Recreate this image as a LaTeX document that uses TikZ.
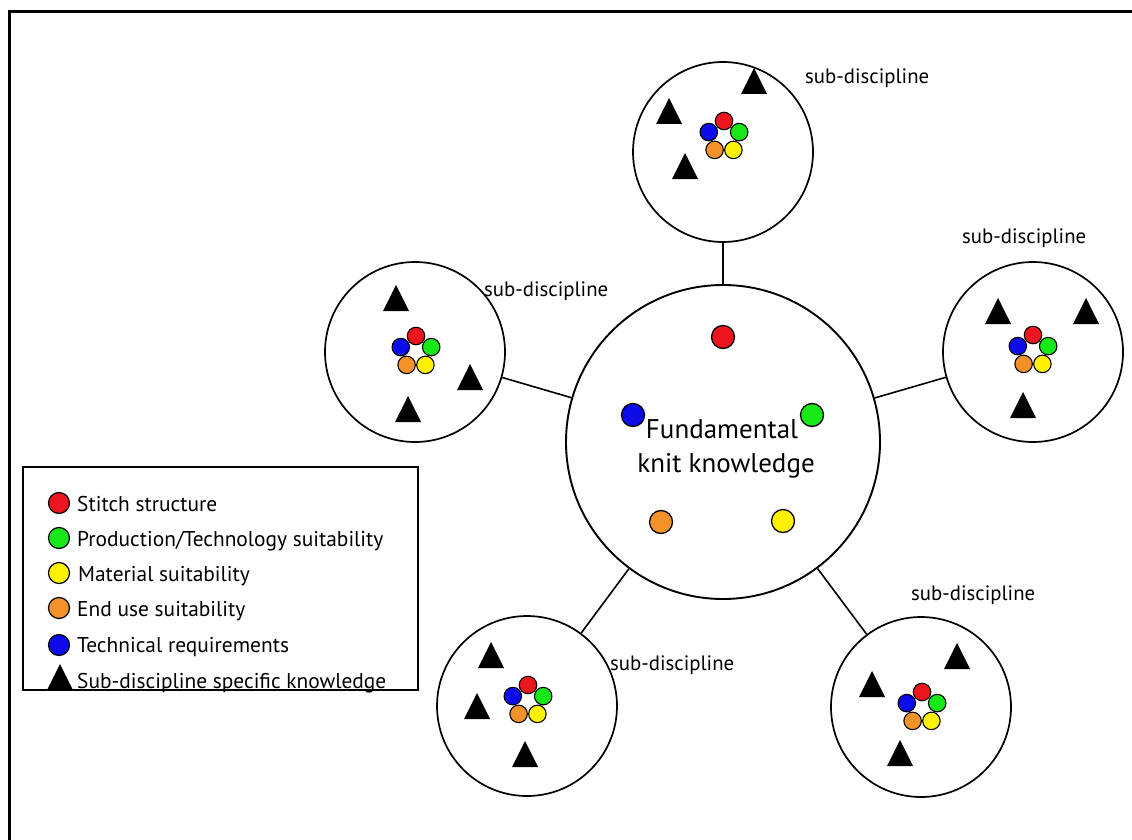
\documentclass[tikz,border=0pt]{standalone}
\usepackage{fontspec}
\setmainfont{PT Sans}
\definecolor{kred}{RGB}{238,22,30}
\definecolor{kgreen}{RGB}{24,232,24}
\definecolor{kblue}{RGB}{12,12,235}
\definecolor{kyellow}{RGB}{255,242,0}
\definecolor{korange}{RGB}{244,146,42}
% filled black triangle centred at (x,y)
\newcommand\knittri[1]{\fill (#1) ++(0,-13) -- ++(13,26) -- ++(-26,0) -- cycle;}
% small pentagon of the five knowledge dots, centred at (x,y); #1 = name prefix
\newcommand\knitset[2]{%
  \begin{scope}[shift={(#2)}]
    \node[smalldot,fill=kred]    (#1r) at (0,-16)     {};
    \node[smalldot,fill=kgreen]  (#1g) at (15.2,-4.9) {};
    \node[smalldot,fill=kyellow] (#1y) at (9.4,12.9)  {};
    \node[smalldot,fill=korange] (#1o) at (-9.4,12.9) {};
    \node[smalldot,fill=kblue]   (#1b) at (-15.2,-4.9){};
  \end{scope}}
\begin{document}
\begin{tikzpicture}[x=1pt,y=-1pt,
  hub/.style={circle,draw,line width=1.9pt,minimum size=314pt,inner sep=0pt},
  sat/.style={circle,draw,line width=1.7pt,minimum size=180pt,inner sep=0pt},
  bigdot/.style={circle,draw,line width=1.3pt,minimum size=23pt,inner sep=0pt},
  smalldot/.style={circle,draw,line width=1.1pt,minimum size=17.5pt,inner sep=0pt},
  legdot/.style={circle,draw,line width=1.2pt,minimum size=21pt,inner sep=0pt},
  link/.style={line width=1.6pt},
  sublabel/.style={anchor=west,inner sep=0pt,font=\fontsize{20.8}{24}\selectfont},
  legtext/.style={anchor=base west,inner sep=0pt,font=\fontsize{21.4}{25}\selectfont},
  hubtext/.style={anchor=base,inner sep=0pt,font=\fontsize{27}{32}\selectfont}]
\useasboundingbox (0,0) rectangle (1132,840);
\clip (0,0) rectangle (1132,840);
\fill[white] (0,0) rectangle (1132,840);
% outer frame (runs past the right and bottom edges)
\draw[line width=3pt] (9.5,11.5) rectangle (1160,870);

% central circle
\node[hub] (hub) at (723,442) {};
\node[bigdot,fill=kred]    (hr) at (723,337) {};
\node[bigdot,fill=kblue]   (hb) at (633,415) {};
\node[bigdot,fill=kgreen]  (hg) at (812,415) {};
\node[bigdot,fill=korange] (ho) at (661,522) {};
\node[bigdot,fill=kyellow] (hy) at (783,521) {};
\node[hubtext] (ht1) at (722,438) {Fundamental};
\node[hubtext] (ht2) at (726,472) {knit knowledge};

% satellite circles
\node[sat] (sT)  at (723,152) {};
\node[sat] (sL)  at (415,352) {};
\node[sat] (sR)  at (1033,352) {};
\node[sat] (sBR) at (921,707) {};
\node[sat] (sBL) at (527,706) {};

% connectors
\draw[link] (hub) -- (sT);
\draw[link] (hub) -- (sL);
\draw[link] (hub) -- (sR);
\draw[link] (hub) -- (sBR);
\draw[link] (hub) -- (sBL);

% contents of the satellites
\knitset{t}{724,137}
\knittri{754,81} \knittri{669,111} \knittri{685,166}
\knitset{l}{416,352}
\knittri{396,298} \knittri{470,377} \knittri{408,409}
\knitset{r}{1033,351}
\knittri{998,311} \knittri{1086,311} \knittri{1023,405}
\knitset{br}{922,708}
\knittri{957,656} \knittri{872,684} \knittri{900,753}
\knitset{bl}{528,701}
\knittri{491,655} \knittri{477,706} \knittri{525,754}

% satellite labels
\node[sublabel] (lT)  at (805,78)  {sub-discipline};
\node[sublabel] (lL)  at (484,291) {sub-discipline};
\node[sublabel] (lR)  at (962,238) {sub-discipline};
\node[sublabel] (lBR) at (911,595) {sub-discipline};
\node[sublabel] (lBL) at (610,665) {sub-discipline};

% legend
\node[draw,line width=2pt,minimum width=395pt,minimum height=223pt,inner sep=0pt]
  (legend) at (220.5,578.5) {};
\node[legdot,fill=kred]    (k1) at (59,503) {};
\node[legdot,fill=kgreen]  (k2) at (59,538) {};
\node[legdot,fill=kyellow] (k3) at (59,573) {};
\node[legdot,fill=korange] (k4) at (59,608) {};
\node[legdot,fill=kblue]   (k5) at (59,645) {};
\knittri{60,677}
\node[legtext] (t1) at (77,511) {Stitch structure};
\node[legtext] (t2) at (77,546) {Production/Technology suitability};
\node[legtext] (t3) at (78,581) {Material suitability};
\node[legtext] (t4) at (77,616) {End use suitability};
\node[legtext] (t5) at (77,652) {Technical requirements};
\node[legtext] (t6) at (77,688) {Sub-discipline specific knowledge};
\end{tikzpicture}
\end{document}
